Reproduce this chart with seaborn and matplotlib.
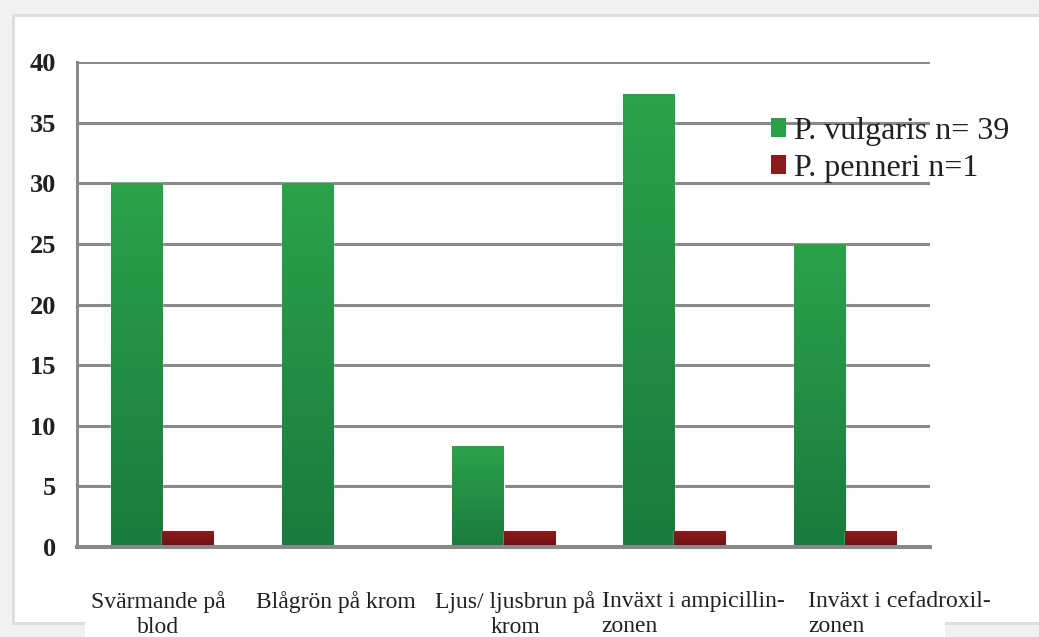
import numpy as np
import pandas as pd
import matplotlib
matplotlib.use('Agg')
import matplotlib.pyplot as plt
import matplotlib.transforms as mtransforms
from matplotlib.colors import LinearSegmentedColormap
from matplotlib.patches import Rectangle, Patch
import seaborn as sns

# data
categories = ['Svärmande på\nblod', 'Blågrön på krom', 'Ljus/ ljusbrun på\nkrom',
              'Inväxt i ampicillin-\nzonen', 'Inväxt i cefadroxil-\nzonen']
series = ['P. vulgaris n= 39', 'P. penneri n=1']
vulgaris = [30, 30, 8.3, 37.4, 25]
penneri = [1.3, 0, 1.3, 1.3, 1.3]
yticks = [0, 5, 10, 15, 20, 25, 30, 35, 40]

df = pd.DataFrame({
    'kategori': categories * 2,
    'serie': [series[0]] * len(categories) + [series[1]] * len(categories),
    'varde': vulgaris + penneri,
})

sns.set_style('white')
plt.rcParams['font.family'] = ['Liberation Serif', 'DejaVu Serif']

W, H = 1039, 637
fig = plt.figure(figsize=(W / 100, H / 100), dpi=100, facecolor='#f0f1f0')

# panel frame behind the chart
fig.add_artist(Rectangle((13 / W, 14 / H), (W + 20 - 13) / W, (622 - 14) / H,
                         transform=fig.transFigure, facecolor='white',
                         edgecolor='#dcdedd', linewidth=2.2, zorder=-2))
fig.add_artist(Rectangle((85 / W, 0), (945 - 85) / W, 78 / H,
                         transform=fig.transFigure, facecolor='white',
                         edgecolor='none', zorder=-1))

ax = fig.add_axes([77 / W, 1 - 547 / H, (930 - 77) / W, (547 - 62) / H])
ax.set_facecolor('none')

green = '#2a9e48'
red = '#8b1a1c'
sns.barplot(data=df, x='kategori', y='varde', hue='serie', order=categories,
            hue_order=series, palette=[green, red], width=0.6, saturation=1,
            legend=False, ax=ax, zorder=3)

# vertical gradient on each bar
cmaps = [LinearSegmentedColormap.from_list('g', ['#1b7a3e', '#2ca24b']),
         LinearSegmentedColormap.from_list('r', ['#6c0f12', '#8f1b1d'])]
grad = np.linspace(0, 1, 256).reshape(-1, 1)
n = len(categories)
for i, p in enumerate(ax.patches[:2 * n]):
    h = p.get_height()
    if h <= 0:
        continue
    x0 = p.get_x()
    z = 3 + i * 0.01
    p.set_zorder(z)
    im = ax.imshow(grad, extent=(x0, x0 + p.get_width(), 0, h), origin='lower',
                   cmap=cmaps[i // n], aspect='auto', zorder=z + 0.001)
    im.set_clip_path(p)

ax.set_xlim(-0.5, n - 0.5)
ax.set_ylim(0, 40)
ax.set_yticks(yticks)
ax.set_xlabel('')
ax.set_ylabel('')

gray = '#898989'
ax.yaxis.grid(True, color=gray, linewidth=2.2, zorder=1)
ax.set_axisbelow(True)
for s in ['top', 'right']:
    ax.spines[s].set_visible(False)
ax.spines['left'].set_color(gray)
ax.spines['left'].set_linewidth(2.2)
ax.spines['bottom'].set_color(gray)
ax.spines['bottom'].set_linewidth(2.9)
ax.spines['bottom'].set_zorder(5)

ax.tick_params(axis='y', direction='out', length=7.2, width=2.2, color=gray,
               pad=8, labelsize=19, labelcolor='#231f20')
for lbl in ax.get_yticklabels():
    lbl.set_fontweight('bold')

ax.set_xticks(np.arange(-0.5, n, 1), minor=True)
ax.tick_params(axis='x', which='minor', direction='out', length=4.3, width=2.2,
               color=gray)
ax.tick_params(axis='x', which='major', length=0, pad=32, labelsize=17,
               labelcolor='#231f20')
offsets_px = [-4, 3, 12, 19, 55]
for lbl, dx in zip(ax.get_xticklabels(), offsets_px):
    lbl.set_linespacing(1.25)
    if '-\n' in lbl.get_text():
        lbl.set_multialignment('left')
    lbl.set_transform(lbl.get_transform() +
                      mtransforms.ScaledTranslation(dx / 100, 0, fig.dpi_scale_trans))

handles = [Patch(facecolor=green, edgecolor='none'), Patch(facecolor=red, edgecolor='none')]
fig.legend(handles, series, loc='upper left', bbox_to_anchor=(771 / W, 1 - 117 / H),
           frameon=False, fontsize=23, handlelength=0.47, handleheight=0.55,
           handletextpad=0.25, labelspacing=0.25, borderpad=0, borderaxespad=0,
           labelcolor='#231f20')

fig.savefig('out.png', dpi=100, facecolor=fig.get_facecolor())
